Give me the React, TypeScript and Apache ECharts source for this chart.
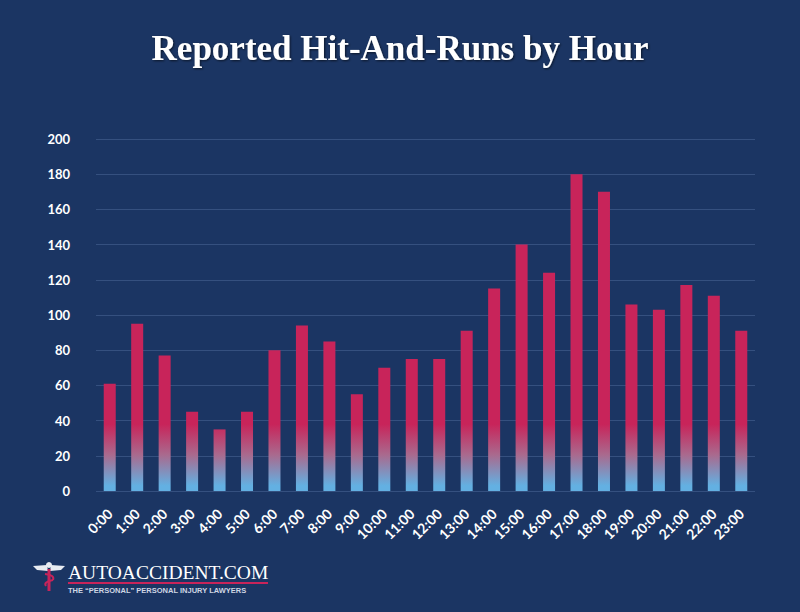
import React, { useEffect, useRef } from "react";
import * as echarts from "echarts";

const hours = ["0:00","1:00","2:00","3:00","4:00","5:00","6:00","7:00","8:00","9:00","10:00","11:00","12:00","13:00","14:00","15:00","16:00","17:00","18:00","19:00","20:00","21:00","22:00","23:00"];
const hitAndRuns = [61, 95, 77, 45, 35, 45, 80, 94, 85, 55, 70, 75, 75, 91, 115, 140, 124, 180, 170, 106, 103, 117, 111, 91];
const yTicks = { min: 0, max: 200, interval: 20 };
const title = "Reported Hit-And-Runs by Hour";
const brand = "AUTOACCIDENT.COM";
const tagline = "THE \u201CPERSONAL\u201D PERSONAL INJURY LAWYERS";

const BG = "#1b3563";
const RED = "#c8245a";
const BLUE = "#63b0e2";

export default function App() {
  const ref = useRef<HTMLDivElement>(null);
  useEffect(() => {
    if (!ref.current) return;
    document.body.style.margin = "0";
    const chart = echarts.init(ref.current, null, { renderer: "svg" });
    const option: any = {
      animation: false,
      backgroundColor: BG,
      title: {
        text: title,
        left: "center",
        top: 26,
        textStyle: {
          color: "#ffffff",
          fontFamily: "Liberation Serif",
          fontWeight: "bold",
          fontSize: 35,
          textShadowColor: "rgba(0,0,0,0.6)",
          textShadowBlur: 2,
          textShadowOffsetX: 1,
          textShadowOffsetY: 1,
        },
      },
      grid: { left: 96, right: 45, top: 139, bottom: 121, containLabel: false },
      xAxis: {
        type: "category",
        data: hours,
        axisLine: { show: false },
        axisTick: { show: false },
        axisLabel: {
          rotate: 45,
          color: "#ffffff",
          fontFamily: "Lato",
          fontWeight: "bold",
          fontSize: 14,
          margin: 20,
          interval: 0,
        },
      },
      yAxis: {
        type: "value",
        min: yTicks.min,
        max: yTicks.max,
        interval: yTicks.interval,
        axisLine: { show: false },
        axisTick: { show: false },
        axisLabel: {
          color: "#ffffff",
          fontFamily: "Lato",
          fontWeight: "bold",
          fontSize: 13,
          margin: 26,
        },
        splitLine: { lineStyle: { color: "#35507f", width: 1 } },
      },
      series: [
        {
          type: "bar",
          data: hitAndRuns,
          barWidth: 12,
          itemStyle: { color: RED },
        },
      ],
      graphic: [
        {
          type: "group",
          left: 33,
          top: 562,
          children: [
            { type: "polygon", shape: { points: [[0, 4], [14, 3], [15, 9], [4, 8]] }, style: { fill: "#e8ecf2" } },
            { type: "polygon", shape: { points: [[32, 4], [18, 3], [17, 9], [28, 8]] }, style: { fill: "#e8ecf2" } },
            { type: "circle", shape: { cx: 16, cy: 3, r: 3 }, style: { fill: "#e8ecf2" } },
            { type: "rect", shape: { x: 14.5, y: 7, width: 3, height: 22 }, style: { fill: RED } },
            { type: "bezierCurve", shape: { x1: 12, y1: 12, x2: 20, y2: 18, cpx1: 22, cpy1: 13 }, style: { stroke: RED, lineWidth: 2, fill: "none" } },
            { type: "bezierCurve", shape: { x1: 20, y1: 18, x2: 13, y2: 24, cpx1: 10, cpy1: 20 }, style: { stroke: RED, lineWidth: 2, fill: "none" } },
          ],
        },
        {
          type: "text",
          left: 68,
          top: 562,
          style: { text: brand, fill: "#ffffff", fontFamily: "Liberation Serif", fontSize: 19.5, fontWeight: "normal" },
        },
        {
          type: "rect",
          left: 68,
          top: 582,
          shape: { width: 200, height: 2 },
          style: { fill: RED },
        },
        {
          type: "text",
          left: 68,
          top: 586,
          style: { text: tagline, fill: "#cfd6e4", fontFamily: "Liberation Sans", fontSize: 7.5, fontWeight: "bold" },
        },
      ],
    };
    chart.setOption(option);
    const yTop = chart.convertToPixel({ yAxisIndex: 0 }, 38) as number;
    const yBottom = chart.convertToPixel({ yAxisIndex: 0 }, 3) as number;
    chart.setOption({
      series: [
        {
          itemStyle: {
            color: {
              type: "linear",
              global: true,
              x: 0,
              y: yTop,
              x2: 0,
              y2: yBottom,
              colorStops: [
                { offset: 0, color: RED },
                { offset: 0.5, color: "#a96a8e" },
                { offset: 1, color: BLUE },
              ],
            },
          },
        },
      ],
    });
    return () => chart.dispose();
  }, []);
  return <div ref={ref} style={{ width: 800, height: 612 }} />;
}
